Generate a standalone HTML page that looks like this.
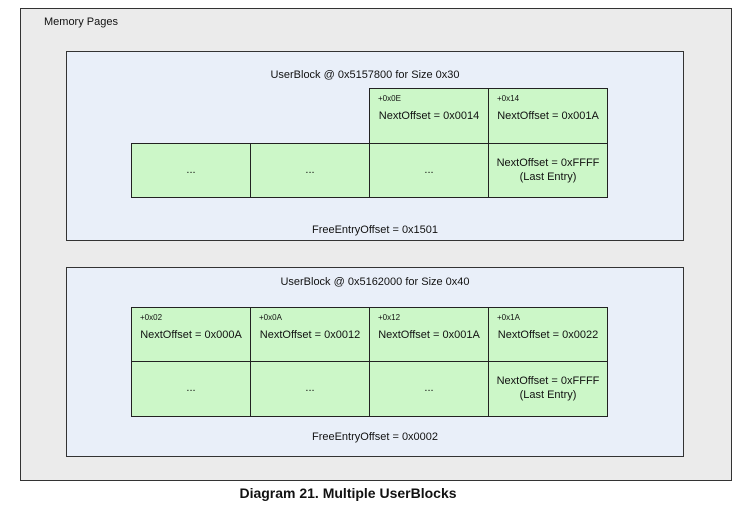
<!DOCTYPE html>
<html><head><style>
body{margin:0;width:746px;height:507px;background:#fff;position:relative;font-family:"Liberation Sans",sans-serif;overflow:hidden}
div{position:absolute;box-sizing:border-box}
.o{left:20px;top:8px;width:712px;height:473px;background:#ebebeb;border:1px solid #333}
.b{background:#e9eff9;border:1px solid #333}
.c{background:#ccf7c8;border:1px solid #222;font-size:11px;color:#111;text-align:center}
.t{font-size:11px;color:#111;white-space:nowrap}
.s{font-size:8px;position:absolute;left:8px;top:5px}
.c .m{position:absolute;left:0;right:0;top:21px}
.c .d{position:absolute;left:0;right:0;top:20px}
.c .l{position:absolute;left:0;right:0;top:12px;line-height:14px}
</style></head><body>
<div class="o"></div>
<div class="t" style="left:44px;top:16px">Memory Pages</div>
<div class="b" style="left:66px;top:51px;width:618px;height:190px"></div>
<div class="t" style="left:56px;width:618px;text-align:center;top:69px">UserBlock @ 0x5157800 for Size 0x30</div>
<div class="c" style="left:369px;top:88px;width:120px;height:56px"><span class="s">+0x0E</span><span class="m">NextOffset = 0x0014</span></div>
<div class="c" style="left:488px;top:88px;width:120px;height:56px"><span class="s">+0x14</span><span class="m">NextOffset = 0x001A</span></div>
<div class="c" style="left:131px;top:143px;width:120px;height:55px"><span class="d">...</span></div>
<div class="c" style="left:250px;top:143px;width:120px;height:55px"><span class="d">...</span></div>
<div class="c" style="left:369px;top:143px;width:120px;height:55px"><span class="d">...</span></div>
<div class="c" style="left:488px;top:143px;width:120px;height:55px"><span class="l">NextOffset = 0xFFFF<br>(Last Entry)</span></div>
<div class="t" style="left:66px;width:618px;text-align:center;top:224px">FreeEntryOffset = 0x1501</div>
<div class="b" style="left:66px;top:267px;width:618px;height:190px"></div>
<div class="t" style="left:66px;width:618px;text-align:center;top:276px">UserBlock @ 0x5162000 for Size 0x40</div>
<div class="c" style="left:131px;top:307px;width:120px;height:55px"><span class="s">+0x02</span><span class="m">NextOffset = 0x000A</span></div>
<div class="c" style="left:250px;top:307px;width:120px;height:55px"><span class="s">+0x0A</span><span class="m">NextOffset = 0x0012</span></div>
<div class="c" style="left:369px;top:307px;width:120px;height:55px"><span class="s">+0x12</span><span class="m">NextOffset = 0x001A</span></div>
<div class="c" style="left:488px;top:307px;width:120px;height:55px"><span class="s">+0x1A</span><span class="m">NextOffset = 0x0022</span></div>
<div class="c" style="left:131px;top:361px;width:120px;height:56px"><span class="d">...</span></div>
<div class="c" style="left:250px;top:361px;width:120px;height:56px"><span class="d">...</span></div>
<div class="c" style="left:369px;top:361px;width:120px;height:56px"><span class="d">...</span></div>
<div class="c" style="left:488px;top:361px;width:120px;height:56px"><span class="l">NextOffset = 0xFFFF<br>(Last Entry)</span></div>
<div class="t" style="left:66px;width:618px;text-align:center;top:431px">FreeEntryOffset = 0x0002</div>
<div style="left:0;width:696px;text-align:center;top:485px;font-size:14px;font-weight:bold;color:#111">Diagram 21. Multiple UserBlocks</div>
</body></html>
